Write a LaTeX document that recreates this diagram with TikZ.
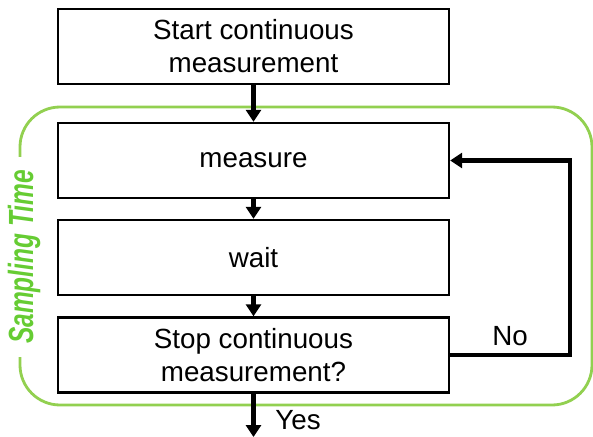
\documentclass[tikz,border=0pt]{standalone}
\usepackage{fontspec}
\setmainfont{Liberation Sans}
\usetikzlibrary{arrows.meta,positioning}
\definecolor{frameGreen}{RGB}{146,208,80}
\definecolor{labelGreen}{RGB}{102,204,51}
\begin{document}
\begin{tikzpicture}[
        x=0.02cm,
        y=-0.02cm,
        processNode/.style={
            rectangle,
            draw,
            line width=1.4pt,
            minimum width=7.82cm,
            minimum height=1.5cm,
            align=center,
            font=\fontsize{15.8}{18.8}\selectfont
        },
        answerLabel/.style={
            font=\fontsize{15.8}{18.8}\selectfont
        },
        flow/.style={
            line width=2.3pt,
            -{Triangle[width=0.3cm,length=0.24cm]}
        },
        samplingFrame/.style={
            draw=frameGreen,
            line width=1.6pt,
            rounded corners=0.8cm
        }
    ]
        \useasboundingbox (0,0) rectangle (593,437);

        % sampling time frame
        \draw[samplingFrame] (20,107) rectangle (592,405);
        \node[rotate=90, anchor=base, fill=white, inner xsep=0.26cm, inner ysep=2pt,
              text=labelGreen, font=\bfseries\itshape\fontsize{19.9}{24}\selectfont]
              (samplingLabel) at (33,257) {\scalebox{0.7}[1]{Sampling Time}};

        \node[processNode] (start) at (253.5,46.5) {Start continuous\\measurement};
        \node[processNode] (measure) at (253.5,160.5) {measure};
        \node[processNode] (wait) at (253.5,257.5) {wait};
        \node[processNode] (stop) at (253.5,355) {Stop continuous\\measurement?};

        \coordinate (exitEnd) at (253.5,437);

        \draw[flow] (start) -- (measure);
        \draw[flow] (measure) -- (wait);
        \draw[flow] (wait) -- (stop);
        \draw[flow] (stop.south) -- node[answerLabel, right, pos=0.6, xshift=0.28cm] (yesLabel) {Yes} (exitEnd);
        \draw[flow] (stop.east) -- node[answerLabel, above, yshift=1pt] (noLabel) {No} ++(120,0) |- (measure.east);

    \end{tikzpicture}
\end{document}
